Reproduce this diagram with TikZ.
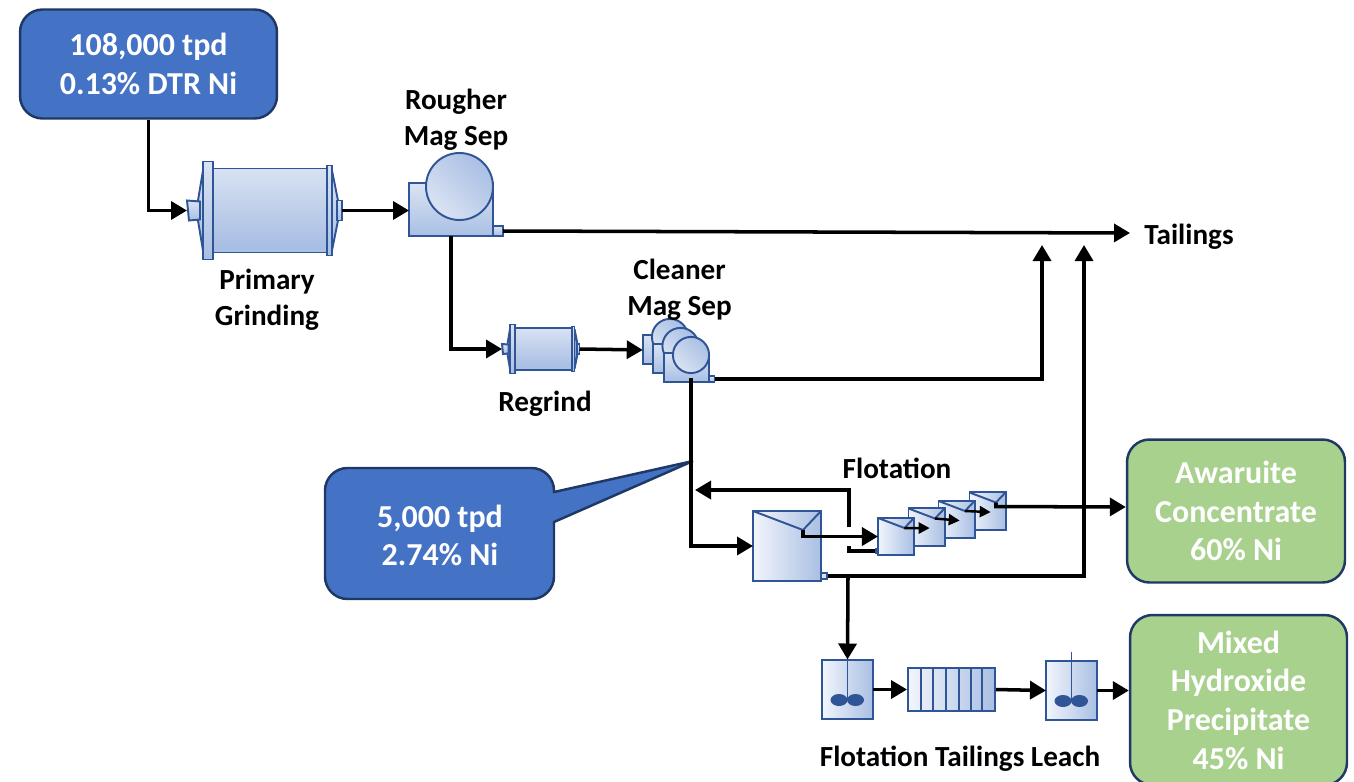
\documentclass[tikz,border=0pt]{standalone}
\usepackage{fontspec}
\setmainfont{Carlito}
\usepackage{xcolor}
\usetikzlibrary{arrows.meta,calc}
\definecolor{edgeblue}{HTML}{2F5597}
\definecolor{paleblue}{HTML}{F2F5FC}
\definecolor{midblue}{HTML}{A9BFE3}
\definecolor{softblue}{HTML}{DAE3F3}
\definecolor{boxblue}{HTML}{4472C4}
\definecolor{boxgreen}{HTML}{A9D18E}
\definecolor{darkedge}{HTML}{1F3864}
\pgfdeclareverticalshading{millshade}{100bp}{color(0bp)=(softblue); color(22bp)=(midblue); color(30bp)=(midblue); color(100bp)=(paleblue)}
\tikzset{
	equip/.style={draw=edgeblue, line width=1.1pt},
	millbody/.style={equip, shading=millshade},
	boxbody/.style={equip, top color=softblue, bottom color=midblue},
	drumbody/.style={equip, shading=axis, left color=midblue, right color=softblue, shading angle=-45},
	cellbody/.style={equip, left color=paleblue, right color=midblue},
	stream/.style={line width=2pt, -{Triangle[length=0.32cm,width=0.36cm]}},
	thinstream/.style={line width=1.4pt, -{Triangle[length=0.22cm,width=0.22cm]}},
	plainstream/.style={line width=2pt},
	label/.style={font=\fontsize{16.6}{20.3}\selectfont\bfseries, align=center},
	infobox/.style={draw=darkedge, line width=1.4pt, rounded corners=0.45cm, font=\fontsize{18.2}{22}\selectfont\bfseries, text=white, align=center},
	ballmill/.pic={
		\path[millbody] (-57,-42) rectangle (57,42);
		\path[boxbody] (-67,-40) -- (-72,-10) -- (-72,10) -- (-67,40) -- cycle;
		\path[boxbody] (62,-40) -- (68,-10) -- (68,10) -- (62,40) -- cycle;
		\path[boxbody] (-67,-49) rectangle (-57,49);
		\path[boxbody] (57,-45) rectangle (62,45);
		\path[boxbody] (-83,-10) -- (-70,-9) -- (-70,9) -- (-81,10) -- cycle;
		\path[boxbody] (67,-10) rectangle (72,10);
		\coordinate (-in) at (-83,0);
		\coordinate (-out) at (72,0);
	},
	magsep/.pic={
		\path[boxbody] (-50.5,-3.5) rectangle (33.5,49.5);
		\path[boxbody] (33.5,39.5) rectangle (43.5,49.5);
		\path[drumbody] (0,0) circle (33.5);
		\coordinate (-in) at (-50.5,24);
		\coordinate (-out) at (43.5,44.5);
	},
	flotcell/.pic={
		\path[cellbody] (-34,-35) rectangle (34,35);
		\draw[equip] (-34,-35) -- (16,-16) -- (34,-35);
		\coordinate (-conc) at (16,-16);
		\coordinate (-mid) at (6,2);
		\coordinate (-in) at (-34,0);
	},
	leachtank/.pic={
		\path[cellbody] (-25.5,-29.5) rectangle (25.5,29.5);
		\draw[equip] (0,-39) -- (0,10);
		\fill[edgeblue] (-8.5,10.5) ellipse (8.5 and 6);
		\fill[edgeblue] (8,10.5) ellipse (8.5 and 6);
		\coordinate (-in) at (-25.5,0);
		\coordinate (-out) at (25.5,0);
		\coordinate (-top) at (0,-30);
	}
}

\begin{document}
\begin{tikzpicture}[x=0.02cm, y=-0.02cm]
	\useasboundingbox (0,0) rectangle (1354,781);

	% boxes
	\node[infobox, fill=boxblue, minimum width=5.14cm, minimum height=2.18cm] (feed) at (148.5,64) {108,000 tpd\\0.13\% DTR Ni};
	\node[infobox, fill=boxgreen, minimum width=4.36cm, minimum height=2.86cm] (awaruite) at (1236,511) {Awaruite\\Concentrate\\60\% Ni};
	\node[infobox, fill=boxgreen, minimum width=4.34cm, minimum height=3.4cm] (mhp) at (1238.5,700) {Mixed\\Hydroxide\\Precipitate\\45\% Ni};

	\draw[draw=darkedge, line width=1.4pt, fill=boxblue] (554,492) -- (693,461) -- (554,522) [rounded corners=0.45cm] -- (554,599) -- (325,599) -- (325,468) -- (554,468) [sharp corners] -- cycle;
	\node[font=\fontsize{18.2}{22}\selectfont\bfseries, text=white, align=center] (callout) at (440,535.5) {5,000 tpd\\2.74\% Ni};

	% equipment
	\pic (mill) at (270,210.5) {ballmill};
	\pic (rougher) at (459.5,186.5) {magsep};
	\pic[scale=0.5] (regrind) at (543.5,349) {ballmill};
	\foreach \n/\x/\y in {A/670/337, B/680.5/346, C/691/355} {
		\pic[scale=0.54] (clean\n) at (\x,\y) {magsep};
	}
	\pic (rcell) at (787,546) {flotcell};
	\foreach \n/\x/\y in {4/987.5/511, 3/956.5/519.5, 2/926.5/527, 1/896/536.5} {
		\pic[scale=0.53] (cell\n) at (\x,\y) {flotcell};
	}
	\node[equip, fill=softblue, minimum width=0.12cm, minimum height=0.12cm, inner sep=0pt] (rstub) at (824,576) {};
	\node[equip, fill=softblue, minimum width=0.04cm, minimum height=0.1cm, inner sep=0pt] (cstub) at (877,551) {};
	\pic (tankA) at (847.5,689.5) {leachtank};
	\node[equip, left color=paleblue, right color=midblue, minimum width=1.74cm, minimum height=0.86cm, inner sep=0pt] (filter) at (951.5,689.5) {};
	\foreach \x in {921,933,946,959,971,982} {
		\draw[equip] (\x,668) -- (\x,711);
	}
	\pic (tankB) at (1071.5,690.5) {leachtank};

	% free ends
	\coordinate (tailend) at (1130,233);
	\coordinate (rise1) at (1042,245);
	\coordinate (rise2) at (1084,245);
	\coordinate (recycle) at (695,490);
	\coordinate (recyclefrom) at (849,527);
	\coordinate (splitA) at (849,546);
	\coordinate (roughbot) at (451,236);
	\coordinate (cleanbot) at (691,378);
	\coordinate (branch) at (848,576);

	% streams
	\draw[stream] (feed.south) |- (mill-in);
	\draw[stream] (mill-out) -- (rougher-in);
	\draw[stream] (rougher-out) -- (tailend);
	\draw[stream] (roughbot) |- (regrind-in);
	\draw[stream] (regrind-out) -- (cleanA-in);
	\draw[stream] (cleanC-out) -| (rise1);
	\draw[stream] (cleanbot) |- (rcell-in);
	\draw[stream] (recyclefrom) |- (recycle);
	\draw[stream] (rcell-conc) -- ++(0,6.5) -- (cell1-in);
	\draw[plainstream] (cstub.west) -| (splitA);
	\draw[thinstream] (cell1-conc) -- (cell2-mid);
	\draw[thinstream] (cell2-conc) -- (cell3-mid);
	\draw[thinstream] (cell3-conc) -- (cell4-mid);
	\draw[stream] (cell4-conc) -- ++(0,4) -- (awaruite.west |- 0,507);
	\draw[stream] (rstub.east) -| (rise2);
	\draw[stream] (branch) -- (tankA-top);
	\draw[stream] (tankA-out) -- (filter.west);
	\draw[stream] (filter.east) -- (tankB-in);
	\draw[stream] (tankB-out) -- (mhp.west |- tankB-out);

	% labels
	\node[label] (roughertext) at (456,119.5) {Rougher\\Mag Sep};
	\node[label] (milltext) at (267,299.5) {Primary\\Grinding};
	\node[label] (cleanertext) at (679.5,289.5) {Cleaner\\Mag Sep};
	\node[label] (regrindtext) at (545,403.5) {Regrind};
	\node[label] (flottext) at (897,468.5) {Flotation};
	\node[label] (leachtext) at (960,758.5) {Flotation Tailings Leach};
	\node[label] (tailtext) at (1189,236.5) {Tailings};
\end{tikzpicture}
\end{document}
